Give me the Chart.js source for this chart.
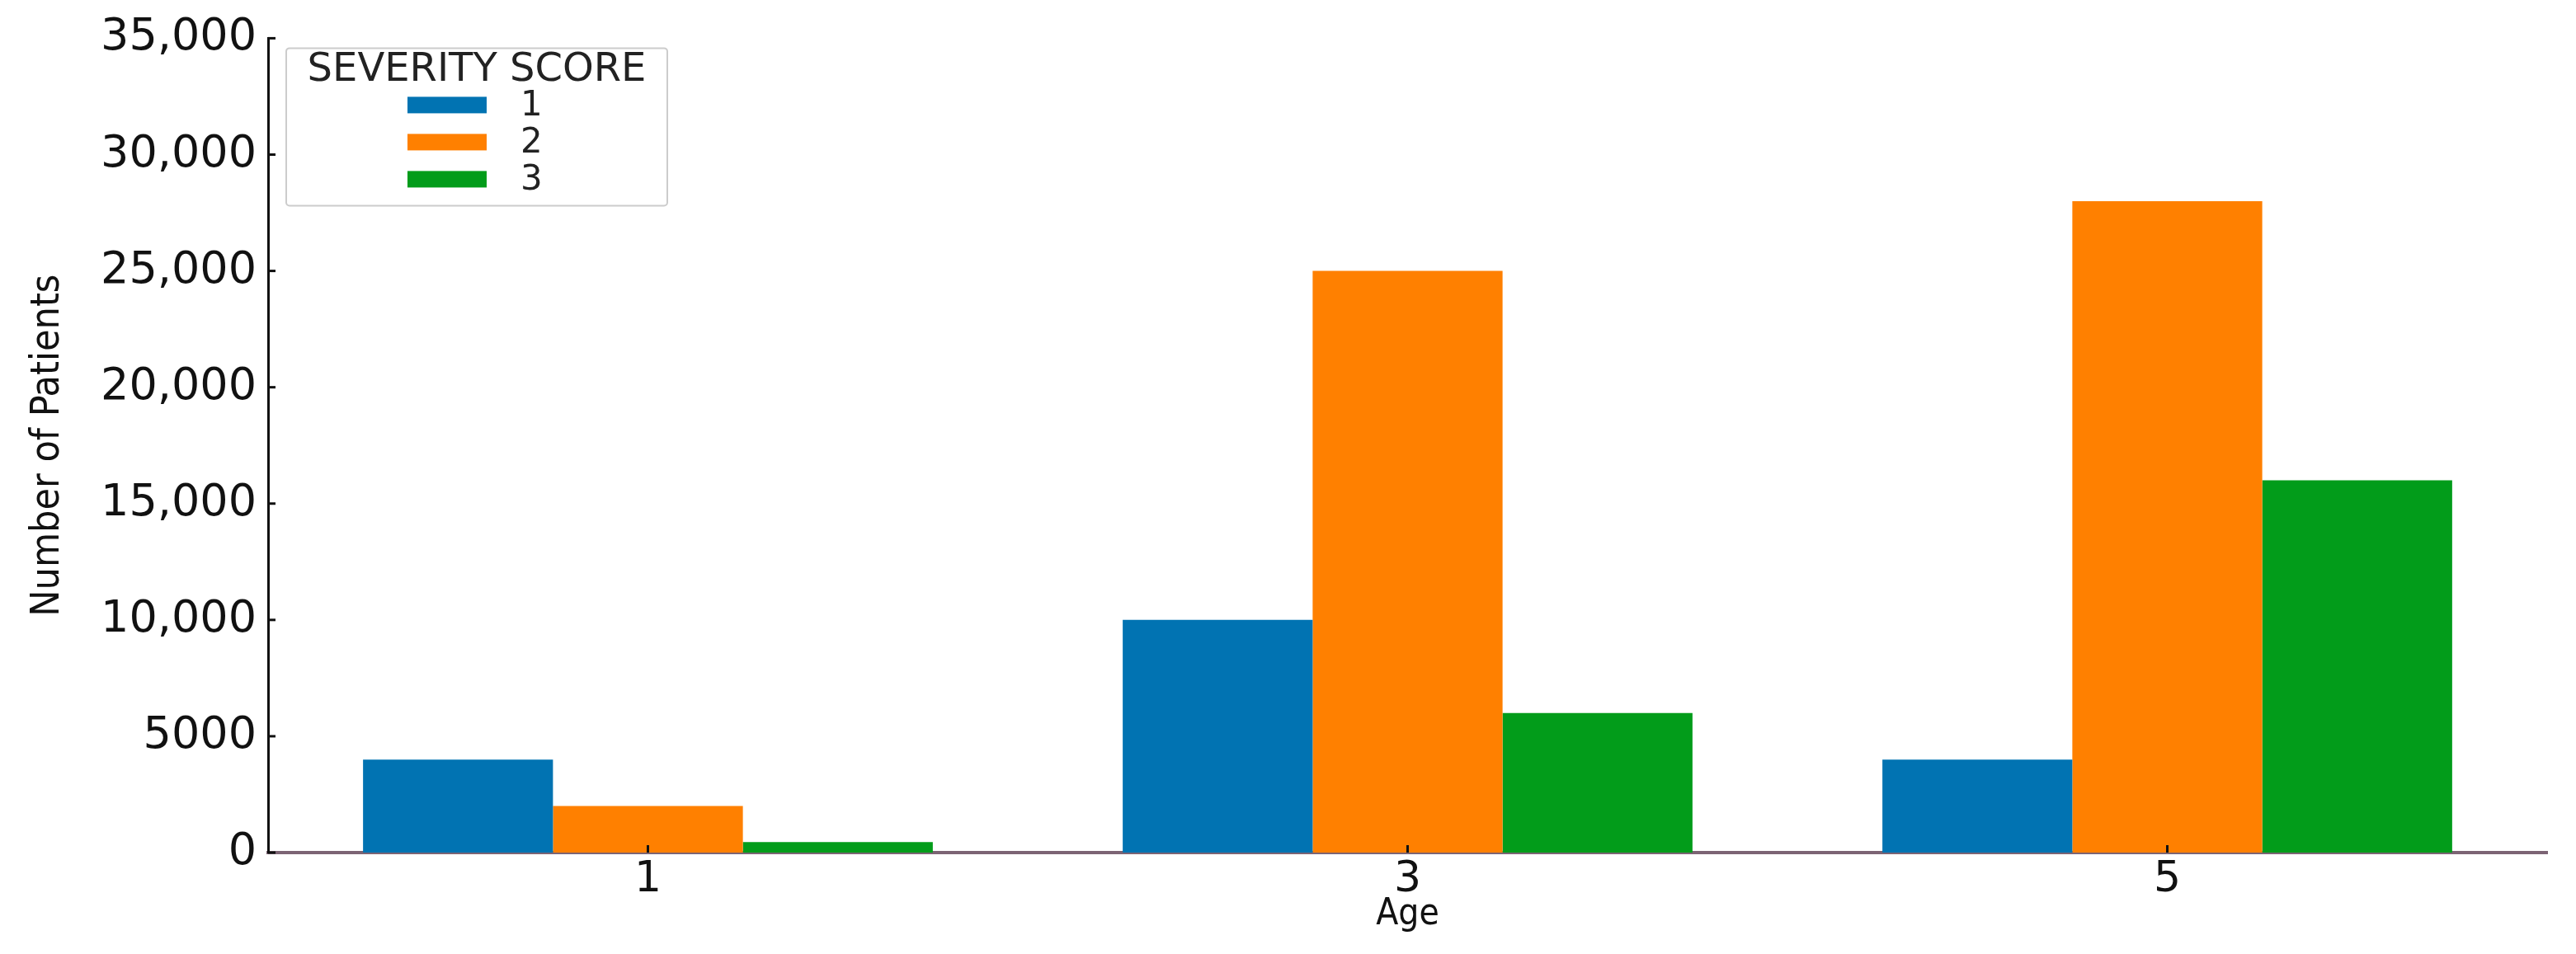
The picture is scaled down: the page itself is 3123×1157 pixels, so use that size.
<!DOCTYPE html>
<html>
<head>
<meta charset="utf-8">
<title>Severity score by age</title>
<script src="https://cdn.jsdelivr.net/npm/chart.js@4.4.1/dist/chart.umd.min.js"></script>
<style>
  html, body { margin: 0; padding: 0; background: #ffffff; }
  #wrap { width: 3123px; height: 1157px; position: relative; }
</style>
</head>
<body>
<div id="wrap"><canvas id="severity_chart"></canvas></div>
<script>
// Number of patients per age, split by severity score

const ages = ['1', '3', '5'];
const scoreLabels = ['1', '2', '3'];
const score1 = [4000, 10000, 4000];
const score2 = [2000, 25000, 28000];
const score3 = [450, 6000, 16000];
const yMin = 0, yMax = 35000, yStep = 5000;
const colors = ['#0173b2', '#ff8000', '#029c1a'];

const legendTitle = 'SEVERITY SCORE';
const xTitle = 'Age';
const yTitle = 'Number of Patients';

const ctx_sev = document.getElementById('severity_chart').getContext('2d');

// matplotlib style: 5000 has no comma, 10,000 and up do
function fmtTick(v) {
    if (v >= 10000) return v.toLocaleString('en-US');
    return String(v);
}

// little inward tick marks, like the original
const innerTicks = {
    id: 'innerTicks',
    afterDatasetsDraw(chart) {
        const c = chart.ctx;
        const ys = chart.scales.y, xs = chart.scales.x;
        const area = chart.chartArea;
        c.save();
        c.strokeStyle = '#111111';
        c.lineWidth = 3;
        ys.ticks.forEach(t => {
            let py = ys.getPixelForValue(t.value);
            c.beginPath();
            c.moveTo(area.left, py);
            c.lineTo(area.left + 9, py);
            c.stroke();
        });
        xs.ticks.forEach((t, i) => {
            let px = xs.getPixelForTick(i);
            c.beginPath();
            c.moveTo(px, area.bottom);
            c.lineTo(px, area.bottom - 9);
            c.stroke();
        });
        c.restore();
    }
};

// boxed legend in the top-left corner of the plot
const boxLegend = {
    id: 'boxLegend',
    afterDraw(chart) {
        const c = chart.ctx;
        const area = chart.chartArea;
        const bx = area.left + 22, by = area.top + 12;
        const bw = 462, bh = 191;
        c.save();
        c.fillStyle = 'rgba(255,255,255,0.9)';
        c.strokeStyle = '#cccccc';
        c.lineWidth = 2;
        c.beginPath();
        c.roundRect(bx, by, bw, bh, 4);
        c.fill();
        c.stroke();

        c.fillStyle = '#222222';
        c.textAlign = 'center';
        c.textBaseline = 'middle';
        c.font = '48px "DejaVu Sans"';
        c.fillText(legendTitle, bx + bw / 2, by + 27);

        chart.data.datasets.forEach((ds, i) => {
            let cy = by + 69 + i * 45;
            c.fillStyle = ds.backgroundColor;
            c.fillRect(bx + 147, cy - 10, 96, 20);
            c.fillStyle = '#222222';
            c.textAlign = 'left';
            c.font = '42px "DejaVu Sans"';
            c.fillText(ds.label, bx + 284, cy + 2);
        });
        c.restore();
    }
};

let datasets = [score1, score2, score3].map((vals, i) => {
    return {
        label: scoreLabels[i],
        data: vals,
        backgroundColor: colors[i],
        borderWidth: 0,
        categoryPercentage: 0.75,
        barPercentage: 1.0,
    };
});

let severity_chart = new Chart(ctx_sev, {
    type: 'bar',
    data: {
        labels: ages,
        datasets: datasets,
    },
    plugins: [innerTicks, boxLegend],
    options: {
        responsive: true,
        maintainAspectRatio: false,
        animation: false,
        layout: {
            padding: { top: 44, right: 35, left: 0, bottom: 0 }
        },
        scales: {
            x: {
                grid: { display: false, drawTicks: false },
                border: { display: true, color: '#7c6474', width: 4 },
                ticks: {
                    color: '#111111',
                    padding: 2,
                    font: { family: 'DejaVu Sans', size: 52 }
                },
                title: {
                    display: true,
                    text: xTitle,
                    color: '#111111',
                    padding: { top: 0, bottom: 21 },
                    font: { family: 'DejaVu Sans Condensed', size: 44 }
                },
                afterFit: function (scale) { scale.height = 123; }
            },
            y: {
                min: yMin,
                max: yMax,
                grid: { display: false, drawTicks: false },
                border: { display: true, color: '#111111', width: 3 },
                ticks: {
                    stepSize: yStep,
                    color: '#111111',
                    padding: 14,
                    font: { family: 'DejaVu Sans', size: 54 },
                    callback: function (value) { return fmtTick(value); }
                },
                title: {
                    display: true,
                    text: yTitle,
                    color: '#111111',
                    padding: { top: 30, bottom: 0 },
                    font: { family: 'DejaVu Sans Condensed', size: 48 }
                },
                afterFit: function (scale) { scale.width = 325; }
            }
        },
        plugins: {
            legend: { display: false },
            tooltip: { enabled: false },
        }
    }
});
</script>
</body>
</html>
